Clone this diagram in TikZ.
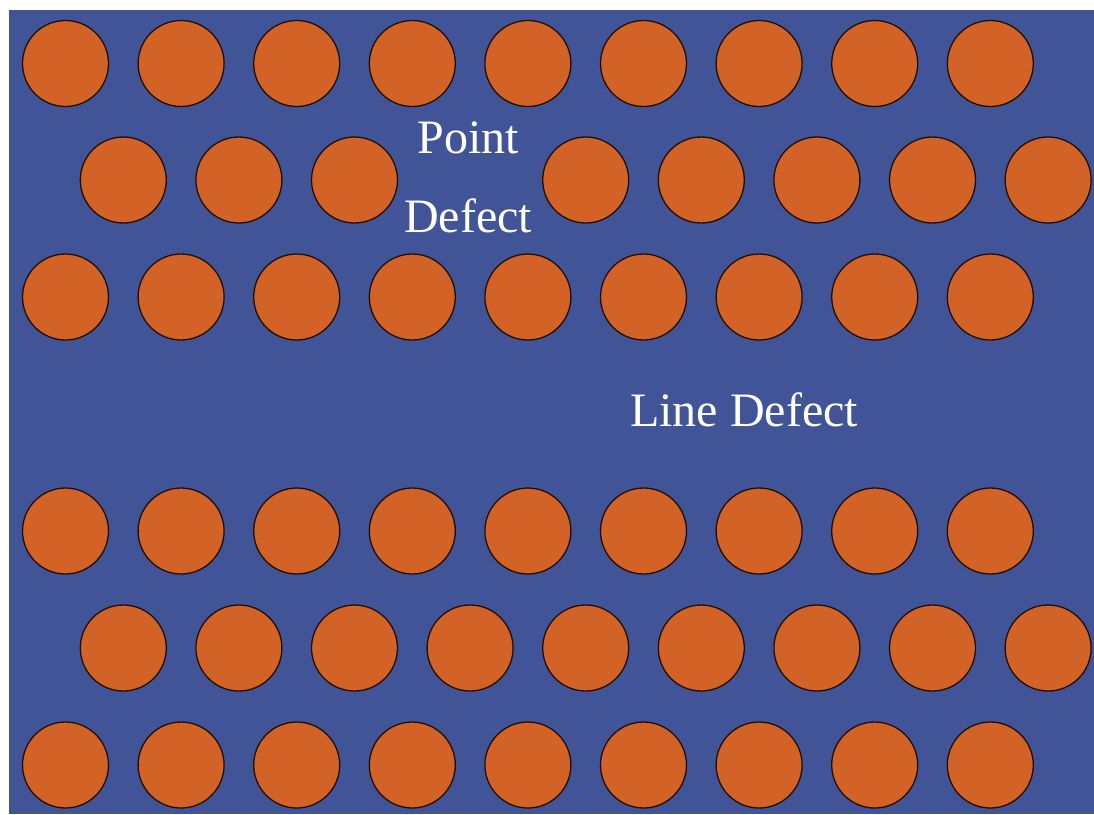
\documentclass[tikz,border=0pt]{standalone}
\usepackage{fontspec}
\setmainfont{Liberation Serif}
\definecolor{bgblue}{RGB}{66,84,152}
\definecolor{atom}{RGB}{210,98,38}
\tikzset{
  atomc/.style={circle, draw=black!85!atom, line width=1.3pt, fill=atom, minimum size=86pt, inner sep=0pt},
  lbl/.style={text=white, font=\fontsize{48}{54}\selectfont, inner sep=0pt}
}
\begin{document}
\begin{tikzpicture}[x=1pt,y=-1pt]
\useasboundingbox (0,0) rectangle (1094,814);
\fill[bgblue] (9,10) rectangle (1094,814);
% full rows (9 atoms)
\foreach \r/\yy in {1/63.5,3/297,4/531,6/765}{
  \foreach \i in {0,...,8}{
    \node[atomc] (a\r-\i) at ({65.5+115.6*\i},\yy) {};
  }
}
% shifted rows
\foreach \i in {0,1,2,4,5,6,7,8}{
  \node[atomc] (a2-\i) at ({123.3+115.6*\i},180) {};
}
\foreach \i in {0,...,8}{
  \node[atomc] (a5-\i) at ({123.3+115.6*\i},648) {};
}
\node[lbl] (pt) at (468,138) {Point};
\node[lbl] (df) at (468,216) {Defect};
\node[lbl] (ld) at (744,410) {Line Defect};
\end{tikzpicture}
\end{document}
